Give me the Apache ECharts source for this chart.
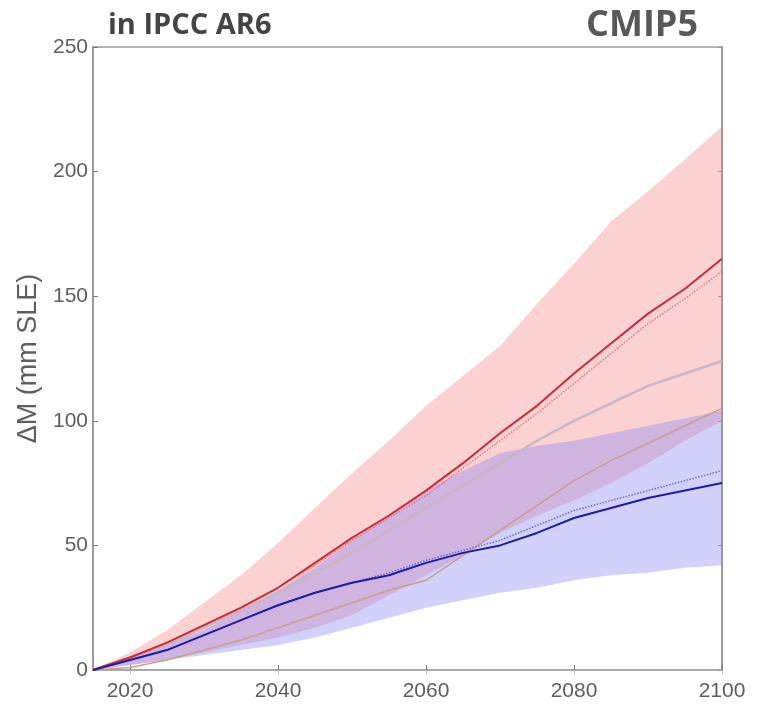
<!DOCTYPE html>
<html>
<head>
<meta charset="utf-8">
<script src="https://cdn.jsdelivr.net/npm/echarts@6/dist/echarts.min.js"></script>
<style>
html,body{margin:0;padding:0;background:#fff;}
#chart{width:758px;height:707px;}
</style>
</head>
<body>
<div id="chart"></div>
<script>
const years      = [2015,2020,2025,2030,2035,2040,2045,2050,2055,2060,2065,2070,2075,2080,2085,2090,2095,2100];
const redMean    = [0,5,11,18,25,33,43,53,62,72,83,95,106,119,131,143,153,165];
const redDotted  = [0,5,11,18,25,33,42,52,61,70,81,92,103,115,127,139,149,160];
const redUpper   = [0,7,16,27,38,51,65,79,92,106,118,130,147,163,180,192,205,218];
const redLower   = [0,2,4,7,10,13,17,22,30,38,46,55,62,68,75,83,92,100];
const blueMean   = [0,4,8,14,20,26,31,35,38,43,47,50,55,61,65,69,72,75];
const blueDotted = [0,4,8,14,20,26,31,35,39,44,48,52,58,64,68,72,76,80];
const blueUpper  = [0,5,10,16,24,32,41,52,62,72,80,87,90,92,95,98,101,104];
const blueLower  = [0,2,4,6,8,10,13,17,21,25,28,31,33,36,38,39,41,42];
const grayLine   = [0,5,10,17,24,31,39,47,56,65,74,83,92,100,107,114,119,124];
const tanLine    = [0,1,4,8,12,17,22,27,32,36,46,56,66,76,84,91,98,105];
const xTicks     = [2020,2040,2060,2080,2100];

const diff = (a,b) => a.map((v,i)=>v-b[i]);
const showTick = (idx,val) => xTicks.indexOf(Number(val)) >= 0;
const labelFont = 'Liberation Sans, Arial, sans-serif';

const chart = echarts.init(document.getElementById('chart'));
chart.setOption({
  animation:false,
  backgroundColor:'#fff',
  grid:{left:93,right:36,top:47,bottom:37,show:true,borderColor:'#9a9a9a',borderWidth:1.5},
  graphic:[
    {type:'text',left:108,top:11,style:{text:'in IPCC AR6',font:'bold 29px "Open Sans", "DejaVu Sans", sans-serif',fill:'#444'}},
    {type:'text',left:586,top:8,style:{text:'CMIP5',font:'bold 36px "Open Sans", "DejaVu Sans", sans-serif',fill:'#585858'}}
  ],
  xAxis:[{
    type:'category',data:years.map(String),boundaryGap:false,
    axisLine:{lineStyle:{color:'#9a9a9a',width:2}},
    axisTick:{inside:true,length:5,interval:showTick,lineStyle:{color:'#777'}},
    axisLabel:{interval:showTick,color:'#5e5e5e',fontSize:21,fontFamily:labelFont,margin:11},
    splitLine:{show:false}
  },{
    type:'category',data:years.map(String),boundaryGap:false,position:'top',
    axisLine:{lineStyle:{color:'#a8a8a8',width:2}},
    axisTick:{inside:true,length:4,interval:showTick,lineStyle:{color:'#bbb'}},
    axisLabel:{show:false},splitLine:{show:false}
  }],
  yAxis:[{
    type:'value',min:0,max:250,interval:50,
    name:'ΔM (mm SLE)',nameLocation:'middle',nameGap:46,
    nameTextStyle:{color:'#5e5e5e',fontSize:27,fontFamily:labelFont},
    axisLine:{show:true,lineStyle:{color:'#9a9a9a',width:2}},
    axisTick:{show:true,inside:true,length:5,lineStyle:{color:'#777'}},
    axisLabel:{color:'#5e5e5e',fontSize:21,fontFamily:labelFont,margin:5},
    splitLine:{show:false}
  },{
    type:'value',min:0,max:250,interval:50,position:'right',
    axisLine:{show:true,lineStyle:{color:'#9a9a9a',width:2}},
    axisTick:{show:true,inside:true,length:4,lineStyle:{color:'#999'}},
    axisLabel:{show:false},splitLine:{show:false}
  }],
  series:[
    {type:'line',data:redLower,stack:'red',symbol:'none',lineStyle:{width:0},silent:true},
    {type:'line',data:diff(redUpper,redLower),stack:'red',symbol:'none',lineStyle:{width:0},areaStyle:{color:'rgba(245,125,125,0.5)'},silent:true},
    {type:'line',data:blueLower,stack:'blue',symbol:'none',lineStyle:{width:0},silent:true},
    {type:'line',data:diff(blueUpper,blueLower),stack:'blue',symbol:'none',lineStyle:{width:0},areaStyle:{color:'rgba(135,135,245,0.55)'},silent:true},
    {type:'line',data:grayLine,symbol:'none',lineStyle:{color:'#c9b6c6',width:2.5}},
    {type:'line',data:tanLine,symbol:'none',lineStyle:{color:'#c79f8c',width:1.5}},
    {type:'line',data:redDotted,symbol:'none',lineStyle:{color:'#e27a7a',width:1.5,type:'dotted'}},
    {type:'line',data:blueDotted,symbol:'none',lineStyle:{color:'#6a6ae8',width:1.5,type:'dotted'}},
    {type:'line',data:redMean,symbol:'none',lineStyle:{color:'#cc2b3a',width:2}},
    {type:'line',data:blueMean,symbol:'none',lineStyle:{color:'#1c1ca8',width:2}}
  ]
});
</script>
</body>
</html>
